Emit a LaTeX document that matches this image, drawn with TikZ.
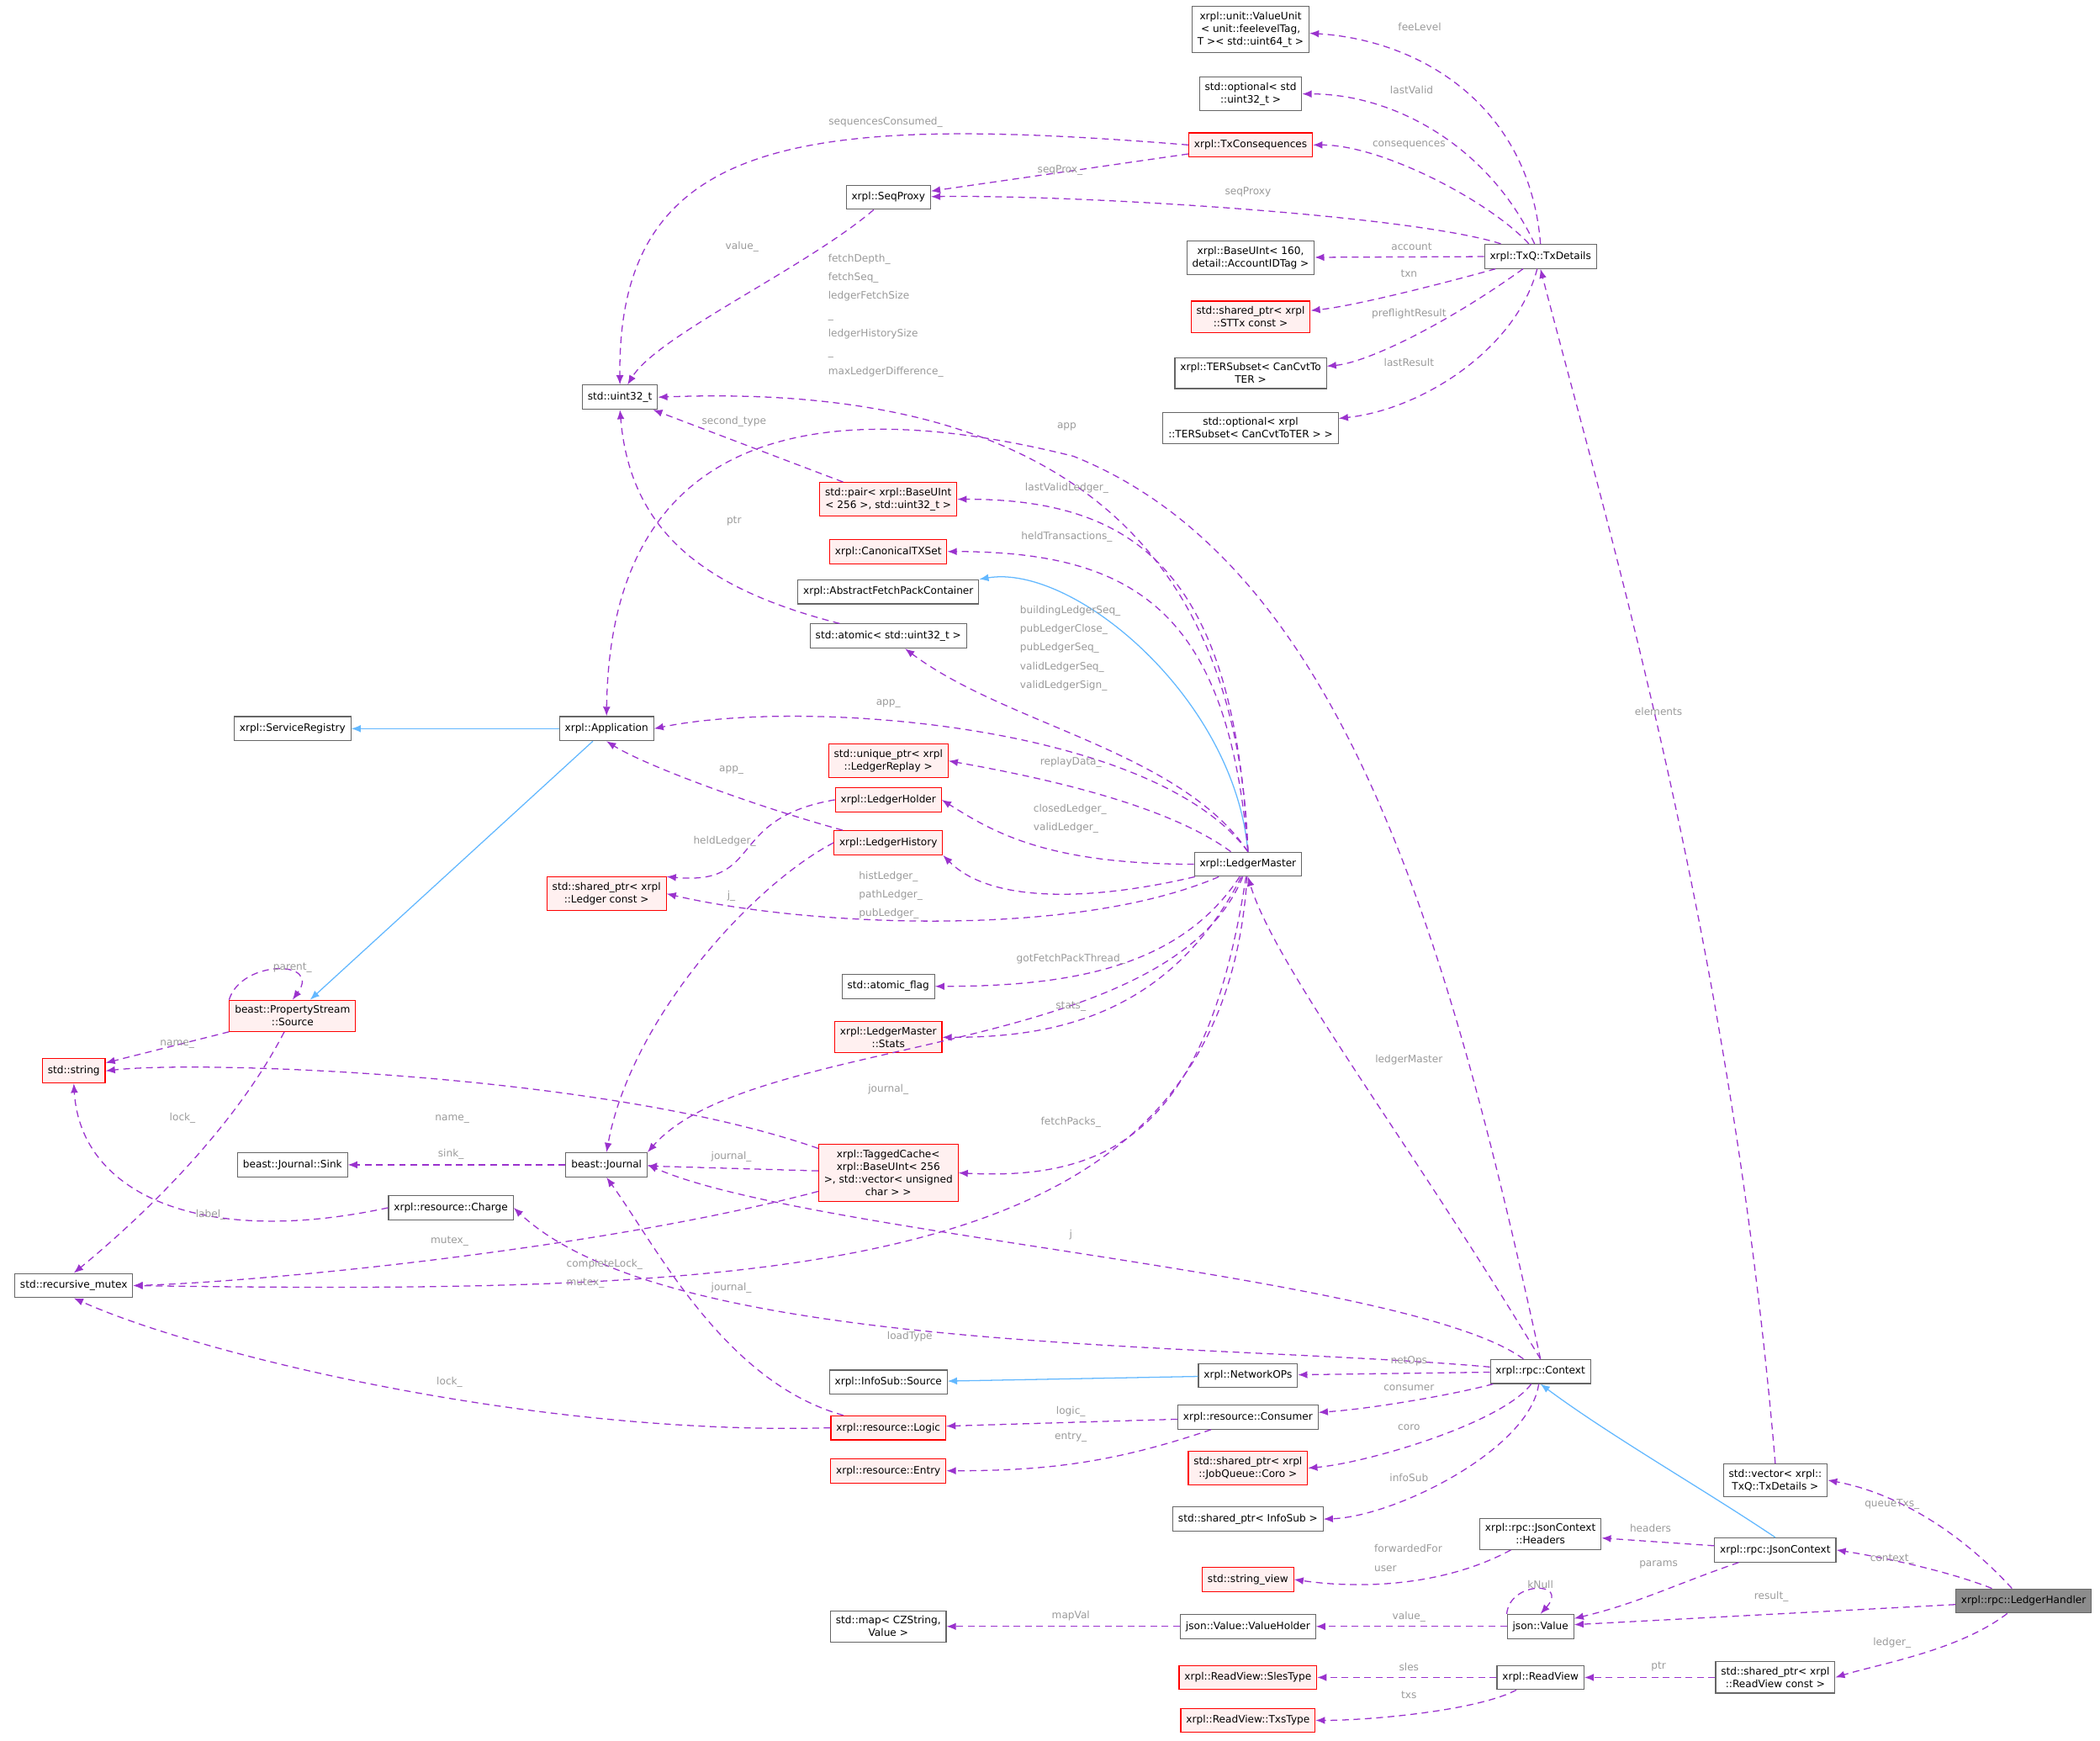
\documentclass[tikz,border=0pt]{standalone}
\usepackage{fontspec}
\setmainfont{DejaVu Sans}
\usepackage{tikz}
\usetikzlibrary{arrows.meta}

\definecolor{memc}{HTML}{9A32CD}
\definecolor{inhc}{HTML}{63B8FF}
\definecolor{lblc}{HTML}{9A9A9A}
\definecolor{boxc}{HTML}{666666}
\definecolor{redfill}{HTML}{FFF0F0}

\tikzset{
  cls/.style={rectangle, draw=boxc, fill=white, line width=0.7pt, font=\fontsize{7.6}{9.4}\selectfont,
    align=center, inner xsep=4pt, inner ysep=4pt, minimum height=18pt},
  red/.style={cls, draw=red, fill=redfill},
  cur/.style={cls, fill=boxc!75, draw=boxc},
  mem/.style={draw=memc, dashed, dash pattern=on 5pt off 3.5pt, line width=0.8pt, -{Latex[length=7pt,width=5.5pt]}},
  inh/.style={draw=inhc, line width=0.8pt, -{Latex[length=7pt,width=5.5pt]}},
  lbl/.style={text=lblc, font=\fontsize{7.6}{14}\selectfont, inner sep=0pt}
}

\begin{document}
\begin{tikzpicture}[x=1pt, y=-1pt]
    \useasboundingbox (0,0) rectangle (1565,1297);
    % Place nodes
    \node [cls] (vu) at (932,22) {xrpl::unit::ValueUnit\\< unit::feelevelTag,\\ T >< std::uint64\_t >};
    \node [cls] (optu32) at (932,70) {std::optional< std\\::uint32\_t >};
    \node [red] (txcons) at (932,108) {xrpl::TxConsequences};
    \node [cls] (seqproxy) at (662,147) {xrpl::SeqProxy};
    \node [cls] (base160) at (932,192) {xrpl::BaseUInt< 160,\\ detail::AccountIDTag >};
    \node [red] (sttx) at (932,236) {std::shared\_ptr< xrpl\\::STTx const >};
    \node [cls] (tersub) at (932,278) {xrpl::TERSubset< CanCvtTo\\TER >};
    \node [cls] (opttersub) at (932,319) {std::optional< xrpl\\::TERSubset< CanCvtToTER > >};
    \node [cls] (txdetails) at (1148,191) {xrpl::TxQ::TxDetails};
    \node [cls] (uint32) at (462,296) {std::uint32\_t};
    \node [red] (pair) at (662,372) {std::pair< xrpl::BaseUInt\\< 256 >, std::uint32\_t >};
    \node [red] (cantx) at (662,411) {xrpl::CanonicalTXSet};
    \node [cls] (afpc) at (662,441) {xrpl::AbstractFetchPackContainer};
    \node [cls] (atomicu32) at (662,474) {std::atomic< std::uint32\_t >};
    \node [cls] (servreg) at (218,543) {xrpl::ServiceRegistry};
    \node [cls] (app) at (452,543) {xrpl::Application};
    \node [red] (replay) at (662,567) {std::unique\_ptr< xrpl\\::LedgerReplay >};
    \node [red] (lholder) at (662,596) {xrpl::LedgerHolder};
    \node [red] (lhistory) at (662,628) {xrpl::LedgerHistory};
    \node [red] (spledger) at (452,666) {std::shared\_ptr< xrpl\\::Ledger const >};
    \node [cls] (lmaster) at (930,644) {xrpl::LedgerMaster};
    \node [cls] (atomicflag) at (662,735) {std::atomic\_flag};
    \node [red] (lmstats) at (662,773) {xrpl::LedgerMaster\\::Stats};
    \node [red] (propsrc) at (218,757) {beast::PropertyStream\\::Source};
    \node [red] (stdstring) at (55,798) {std::string};
    \node [cls] (sink) at (218,868) {beast::Journal::Sink};
    \node [cls] (journal) at (452,868) {beast::Journal};
    \node [red] (tcache) at (662,874) {xrpl::TaggedCache<\\xrpl::BaseUInt< 256\\ >, std::vector< unsigned\\ char > >};
    \node [cls] (charge) at (336,900) {xrpl::resource::Charge};
    \node [cls] (recmutex) at (55,958) {std::recursive\_mutex};
    \node [cls] (infosrc) at (662,1030) {xrpl::InfoSub::Source};
    \node [cls] (netops) at (930,1025) {xrpl::NetworkOPs};
    \node [cls] (context) at (1148,1022) {xrpl::rpc::Context};
    \node [cls] (consumer) at (930,1056) {xrpl::resource::Consumer};
    \node [red] (logic) at (662,1064) {xrpl::resource::Logic};
    \node [red] (entry) at (662,1096) {xrpl::resource::Entry};
    \node [red] (coro) at (930,1094) {std::shared\_ptr< xrpl\\::JobQueue::Coro >};
    \node [cls] (spinfosub) at (930,1132) {std::shared\_ptr< InfoSub >};
    \node [cls] (vecdetails) at (1323,1103) {std::vector< xrpl::\\TxQ::TxDetails >};
    \node [cls] (headers) at (1148,1143) {xrpl::rpc::JsonContext\\::Headers};
    \node [cls] (jcontext) at (1323,1155) {xrpl::rpc::JsonContext};
    \node [cur] (handler) at (1508,1193) {xrpl::rpc::LedgerHandler};
    \node [red] (strview) at (930,1177) {std::string\_view};
    \node [cls] (jvalue) at (1148,1212) {json::Value};
    \node [cls] (mapcz) at (662,1212) {std::map< CZString,\\Value >};
    \node [cls] (vholder) at (930,1212) {json::Value::ValueHolder};
    \node [cls] (readview) at (1148,1250) {xrpl::ReadView};
    \node [cls] (spreadview) at (1323,1250) {std::shared\_ptr< xrpl\\::ReadView const >};
    \node [red] (slestype) at (930,1250) {xrpl::ReadView::SlesType};
    \node [red] (txstype) at (930,1282) {xrpl::ReadView::TxsType};

    % Inheritance
    \path [inh] (app) -- (servreg);
    \path [inh] (app) -- (propsrc);
    \path [inh] (lmaster.north) .. controls (920,520) and (800,420) .. (afpc.north east);
    \path [inh] (netops) -- (infosrc);
    \path [inh] (jcontext.north) .. controls (1270,1110) and (1200,1070) .. (context.south);

    % Members
    \path [mem] (txdetails.north) .. controls (1140,80) and (1060,30) .. (vu);
    \path [mem] (txdetails) .. controls (1110,110) and (1040,70) .. (optu32);
    \path [mem] (txdetails) .. controls (1110,150) and (1030,108) .. (txcons);
    \path [mem] (txdetails) .. controls (1050,160) and (800,145) .. (seqproxy);
    \path [mem] (txdetails) -- (base160);
    \path [mem] (txdetails) .. controls (1080,210) and (1010,228) .. (sttx);
    \path [mem] (txdetails) .. controls (1080,240) and (1020,270) .. (tersub);
    \path [mem] (txdetails) .. controls (1130,260) and (1060,305) .. (opttersub);
    \path [mem] (txcons) -- (seqproxy);
    \path [mem] (txcons.west) .. controls (600,85) and (460,100) .. (uint32.north);
    \path [mem] (seqproxy) .. controls (600,200) and (490,250) .. (uint32);
    \path [mem] (lmaster.north) .. controls (920,340) and (700,288) .. (uint32.east);
    \path [mem] (context.north) .. controls (1080,700) and (1000,420) .. (800,340)
        .. controls (640,300) and (455,300) .. (app.north);
    \path [mem] (pair) -- (uint32);
    \path [mem] (lmaster.north) .. controls (920,430) and (850,372) .. (pair.east);
    \path [mem] (lmaster.north) .. controls (915,460) and (850,411) .. (cantx.east);
    \path [mem] (atomicu32) .. controls (530,440) and (470,400) .. (uint32.south);
    \path [mem] (lmaster.north) .. controls (880,560) and (750,540) .. (atomicu32);
    \path [mem] (lmaster.north) .. controls (860,540) and (600,520) .. (app.east);
    \path [mem] (lmaster) .. controls (870,600) and (780,580) .. (replay.east);
    \path [mem] (lmaster.west) .. controls (780,644) and (740,620) .. (lholder.east);
    \path [mem] (lmaster) .. controls (820,670) and (740,675) .. (lhistory.south east);
    \path [mem] (lholder.west) .. controls (540,610) and (570,660) .. (spledger.north east);
    \path [mem] (lhistory) .. controls (560,600) and (480,570) .. (app.south);
    \path [mem] (lhistory.west) .. controls (560,660) and (470,760) .. (journal.north);
    \path [mem] (lmaster) .. controls (800,700) and (600,690) .. (spledger.east);
    \path [mem] (propsrc.north west) .. controls (180,715) and (240,715) .. (propsrc.north);
    \path [mem] (propsrc) -- (stdstring);
    \path [mem] (propsrc) .. controls (170,850) and (90,920) .. (recmutex.north);
    \path [mem] (lmaster) .. controls (880,720) and (800,735) .. (atomicflag.east);
    \path [mem] (lmaster) .. controls (870,760) and (780,773) .. (lmstats.east);
    \path [mem] (lmaster) .. controls (870,790) and (560,770) .. (journal.north east);
    \path [mem] (lmaster) .. controls (900,840) and (830,880) .. (tcache.east);
    \path [mem] (lmaster) .. controls (910,950) and (600,965) .. (recmutex.east);
    \path [mem] (tcache) .. controls (450,800) and (150,790) .. (stdstring.east);
    \path [mem] (tcache) -- (journal);
    \path [mem] (tcache) .. controls (450,930) and (200,955) .. (recmutex.east);
    \path [mem] (journal) -- (sink);
    \path [mem] (charge.west) .. controls (150,930) and (60,890) .. (stdstring.south);
    \path [mem] (context) .. controls (1050,950) and (600,920) .. (journal.east);
    \path [mem] (context) .. controls (900,1000) and (500,1010) .. (charge.east);
    \path [mem] (context.north) .. controls (1050,850) and (950,720) .. (lmaster.south);
    \path [mem] (context) -- (netops);
    \path [mem] (context) .. controls (1080,1040) and (1020,1050) .. (consumer);
    \path [mem] (context) .. controls (1120,1060) and (1020,1090) .. (coro.east);
    \path [mem] (context) .. controls (1140,1080) and (1040,1130) .. (spinfosub.east);
    \path [mem] (consumer) -- (logic);
    \path [mem] (consumer) .. controls (830,1090) and (780,1096) .. (entry.east);
    \path [mem] (logic) .. controls (540,1030) and (490,930) .. (journal.south);
    \path [mem] (logic.west) .. controls (400,1070) and (150,1010) .. (recmutex.south);
    \path [mem] (vecdetails.north) .. controls (1290,700) and (1200,400) .. (txdetails.south);
    \path [mem] (jcontext) -- (headers);
    \path [mem] (jcontext) .. controls (1250,1180) and (1220,1195) .. (jvalue);
    \path [mem] (headers) .. controls (1080,1180) and (1020,1185) .. (strview.east);
    \path [mem] (jvalue.north west) .. controls (1125,1178) and (1170,1178) .. (jvalue.north);
    \path [mem] (jvalue) -- (vholder);
    \path [mem] (vholder) -- (mapcz);
    \path [mem] (handler) .. controls (1450,1130) and (1400,1110) .. (vecdetails.east);
    \path [mem] (handler) .. controls (1450,1170) and (1400,1160) .. (jcontext.east);
    \path [mem] (handler) -- (jvalue);
    \path [mem] (handler) .. controls (1460,1230) and (1400,1240) .. (spreadview.east);
    \path [mem] (spreadview) -- (readview);
    \path [mem] (readview) -- (slestype);
    \path [mem] (readview) .. controls (1100,1275) and (1020,1282) .. (txstype.east);

    % Labels
    \foreach \x/\y/\t [count=\i] in {
      1058/20/feeLevel, 1052/67/lastValid, 1050/108/consequences, 930/143/seqProxy,
      1052/184/account, 1050/204/txn, 1050/234/preflightResult, 1050/270/lastResult,
      790/127/seqProx\_, 660/91/sequencesConsumed\_, 553/184/value\_, 795/318/app,
      547/314/second\_type, 795/364/lastValidLedger\_, 795/400/heldTransactions\_,
      547/388/ptr, 662/524/app\_, 798/568/replayData\_, 540/627/heldLedger\_,
      545/574/app\_, 545/668/j\_, 218/721/parent\_, 132/778/name\_, 136/833/lock\_,
      798/715/gotFetchPackThread\_, 798/750/stats\_, 662/812/journal\_, 798/836/fetchPacks\_,
      337/834/name\_, 545/862/journal\_, 335/925/mutex\_, 336/860/sink\_, 157/905/label\_,
      798/920/j, 678/996/loadType, 1050/790/ledgerMaster, 1050/1014/netOps,
      1050/1034/consumer, 1050/1064/coro, 1050/1101/infoSub, 798/1052/logic\_,
      798/1071/entry\_, 545/960/journal\_, 335/1030/lock\_, 1236/530/elements,
      1230/1139/headers, 1236/1166/params, 1148/1181/kNull, 1050/1205/value\_,
      798/1204/mapVal, 1410/1121/queueTxs\_, 1410/1162/context\_, 1320/1190/result\_,
      1410/1224/ledger\_, 1236/1242/ptr, 1050/1242/sles, 1050/1263/txs}
      \node [lbl] (l\i) at (\x,\y) {\t};
    \node [lbl, align=left, anchor=west] (lfetch) at (617,235)
      {fetchDepth\_\\fetchSeq\_\\ledgerFetchSize\\\_\\ledgerHistorySize\\\_\\maxLedgerDifference\_};
    \node [lbl, align=left, anchor=west] (lseq) at (760,483)
      {buildingLedgerSeq\_\\pubLedgerClose\_\\pubLedgerSeq\_\\validLedgerSeq\_\\validLedgerSign\_};
    \node [lbl, align=left, anchor=west] (lclosed) at (770,610) {closedLedger\_\\validLedger\_};
    \node [lbl, align=left, anchor=west] (lhist) at (640,667) {histLedger\_\\pathLedger\_\\pubLedger\_};
    \node [lbl, align=left, anchor=west] (lcomplete) at (422,949) {completeLock\_\\mutex\_};
    \node [lbl, align=left, anchor=west] (lfwd) at (1024,1161) {forwardedFor\\user};
\end{tikzpicture}
\end{document}
